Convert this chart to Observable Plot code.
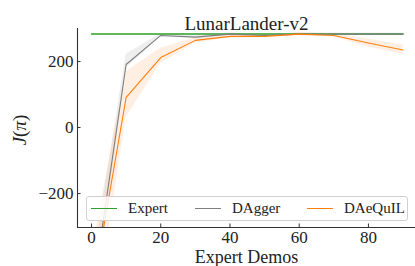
<!DOCTYPE html>
<html>
<head>
<meta charset="utf-8">
<script src="https://cdn.jsdelivr.net/npm/d3@7"></script>
<script src="https://cdn.jsdelivr.net/npm/@observablehq/plot@0.6"></script>
<style>
  html, body { margin: 0; padding: 0; background: #fff; }
  #wrap { position: relative; width: 415px; height: 266px; font-family: "Liberation Serif", serif; }
  #wrap svg, #wrap svg text { font-family: "Liberation Serif", serif !important; }
  #legend { position: absolute; left: 86px; top: 196px; width: 320px; height: 23px;
    border: 1px solid #d0d0d0; border-radius: 3px; background: rgba(255,255,255,0.85);
    font-size: 15px; color: #222; font-family: "Liberation Serif", serif; }
  .item { position: absolute; top: 0; height: 23px; display: flex; align-items: center; }
  .sw { display: inline-block; width: 26px; height: 0; border-top-width: 1.5px; border-top-style: solid; margin-right: 11px; }
</style>
</head>
<body>
<div id="wrap"></div>
<script>
// ---- data ----
const demos = [0, 10, 20, 30, 40, 50, 60, 70, 80, 90];
const expert = [283, 283, 283, 283, 283, 283, 283, 283, 283, 283];
const dagger = [-525, 191, 279, 274, 283, 279, 283, 283, 283, 283];
const daggerLo = [-610, 180, 275, 270, 280, 276, 280, 281, 281, 281];
const daggerHi = [-440, 222, 284, 278, 287, 282, 286, 286, 286, 286];
const daequil = [-515, 91, 212, 264, 276, 276, 283, 279, 256, 235];
const daequilLo = [-650, 30, 195, 256, 271, 272, 279, 274, 243, 222];
const daequilHi = [-380, 170, 240, 272, 282, 281, 287, 284, 268, 251];
const seriesNames = ["Expert", "DAgger", "DAeQuIL"];
const seriesColors = ["#2ca02c", "#7f7f7f", "#ff7f0e"];
const xTicks = [0, 20, 40, 60, 80];
const yTicks = [-200, 0, 200];
const xDomain = [-4.05, 93.6];
const yDomain = [-303, 300];
const titleText = "LunarLander-v2";
const xLabel = "Expert Demos";

const rows = (vals, lo, hi, name) => demos.map((d, i) => ({x: d, y: vals[i], lo: lo ? lo[i] : null, hi: hi ? hi[i] : null, s: name}));
const expertRows = rows(expert, null, null, "Expert");
const daggerRows = rows(dagger, daggerLo, daggerHi, "DAgger");
const daequilRows = rows(daequil, daequilLo, daequilHi, "DAeQuIL");

const spine = "#333";
const chart = Plot.plot({
  width: 415,
  height: 266,
  marginLeft: 77,
  marginRight: 0,
  marginTop: 28,
  marginBottom: 39,
  style: {fontSize: "17px", color: "#222", background: "#fff", overflow: "visible"},
  x: {domain: xDomain},
  y: {domain: yDomain},
  marks: [
    Plot.areaY(daggerRows, {x: "x", y1: "lo", y2: "hi", fill: seriesColors[1], fillOpacity: 0.13, clip: true}),
    Plot.areaY(daequilRows, {x: "x", y1: "lo", y2: "hi", fill: seriesColors[2], fillOpacity: 0.12, clip: true}),
    Plot.line(expertRows, {x: "x", y: "y", stroke: seriesColors[0], strokeWidth: 1.5, clip: true}),
    Plot.line(daggerRows, {x: "x", y: "y", stroke: seriesColors[1], strokeWidth: 1.1, clip: true}),
    Plot.line(daequilRows, {x: "x", y: "y", stroke: seriesColors[2], strokeWidth: 1.1, clip: true}),
    Plot.ruleX([xDomain[0]], {stroke: spine, strokeWidth: 1.1}),
    Plot.ruleY([yDomain[0]], {stroke: spine, strokeWidth: 1.1}),
    Plot.axisX({ticks: xTicks, tickSize: -3.5, tickPadding: 6.5, stroke: spine, label: null, fontSize: 17}),
    Plot.axisY({ticks: yTicks, tickSize: -3.5, tickPadding: 7.5, stroke: spine, label: null, fontSize: 17}),
    Plot.text([titleText], {frameAnchor: "top", dy: -12, fontSize: 19, fill: "#222", letterSpacing: "0.4px"}),
    Plot.text([xLabel], {frameAnchor: "bottom", lineAnchor: "top", dy: 23, fontSize: 18, fill: "#222", letterSpacing: "0.8px"})
  ]
});

const wrap = document.getElementById("wrap");
wrap.appendChild(chart);

// y label J(π) with matplotlib-like mathtext styling
const svg = d3.select(chart);
const yl = svg.append("text")
  .attr("transform", "translate(26,130) rotate(-90)")
  .attr("text-anchor", "middle")
  .attr("font-size", 19)
  .attr("fill", "#222");
yl.append("tspan").attr("font-style", "italic").text("J");
yl.append("tspan").text("(");
yl.append("tspan").attr("font-style", "italic").text("π");
yl.append("tspan").text(")");

// legend
const legend = document.createElement("div");
legend.id = "legend";
const offsets = [4, 108, 220];
seriesNames.forEach((n, i) => {
  const it = document.createElement("div");
  it.className = "item";
  it.style.left = offsets[i] + "px";
  const sw = document.createElement("span");
  sw.className = "sw";
  sw.style.borderTopColor = seriesColors[i];
  it.appendChild(sw);
  it.appendChild(document.createTextNode(n));
  legend.appendChild(it);
});
wrap.appendChild(legend);
</script>
</body>
</html>
